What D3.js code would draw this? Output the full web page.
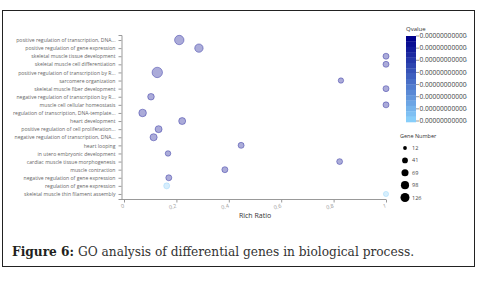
<!DOCTYPE html>
<html>
<head>
<meta charset="utf-8">
<script src="https://cdn.jsdelivr.net/npm/d3@7"></script>
<style>
  body { margin: 0; background: #fff; }
  svg { display: block; }
</style>
</head>
<body>
<svg id="chart" width="485" height="282"></svg>
<script>
const terms = [
  "positive regulation of transcription, DNA...",
  "positive regulation of gene expression",
  "skeletal muscle tissue development",
  "skeletal muscle cell differentiation",
  "positive regulation of transcription by R...",
  "sarcomere organization",
  "skeletal muscle fiber development",
  "negative regulation of transcription by R...",
  "muscle cell cellular homeostasis",
  "regulation of transcription, DNA-template...",
  "heart development",
  "positive regulation of cell proliferation...",
  "negative regulation of transcription, DNA...",
  "heart looping",
  "in utero embryonic development",
  "cardiac muscle tissue morphogenesis",
  "muscle contraction",
  "negative regulation of gene expression",
  "regulation of gene expression",
  "skeletal muscle thin filament assembly"
];
const richRatio = [0.211, 0.286, 1.0, 1.0, 0.127, 0.828, 1.0, 0.103, 1.0, 0.071,
                   0.222, 0.132, 0.113, 0.447, 0.168, 0.823, 0.385, 0.171, 0.163, 1.0];
const geneNumber = [95, 68, 22, 22, 126, 14, 22, 31, 22, 50,
                    38, 38, 41, 22, 16, 20, 22, 22, 22, 12];
const qvalue = [0.5e-13, 0.9e-13, 0.2e-13, 0.3e-13, 0.1e-13, 0.6e-13, 0.4e-13, 0.7e-13, 0.5e-13, 0.2e-13,
                0.8e-13, 0.6e-13, 0.3e-13, 1.0e-13, 0.9e-13, 1.1e-13, 0.4e-13, 1.2e-13, 9.8e-12, 9.9e-12];
const xTicks = [0, 0.2, 0.4, 0.6, 0.8, 1];
const qTickLabels = ["0.00000000000", "0.00000000000", "0.00000000000", "0.00000000000",
                     "0.00000000000", "0.00000000000", "0.00000000000", "0.00000000000"];
const geneLegend = [12, 41, 69, 98, 126];
const caption = ["Figure 6:", " GO analysis of differential genes in biological process."];

const svg = d3.select("#chart");
const labelFont = "'Open Sans', sans-serif";

svg.append("rect").attr("width", 485).attr("height", 282).attr("fill", "#fff");
// frame
svg.append("rect")
  .attr("x", 2.5).attr("y", 10.5).attr("width", 472).attr("height", 256)
  .attr("fill", "none").attr("stroke", "#222").attr("stroke-width", 1);

const x = d3.scaleLinear().domain([0, 1]).range([124, 386]);
const y = d3.scalePoint().domain(terms).range([35, 199]).padding(0.62);
const r = d3.scaleSqrt().domain([12, 126]).range([2.6, 5.2]);
const qExt = d3.extent(qvalue);
const color = d3.scaleLinear().domain(qExt).range(["#00008b", "#87cefa"]);

// y axis
const yAxis = svg.append("g")
  .attr("transform", "translate(121.5,0)")
  .call(d3.axisLeft(y).tickSize(3).tickSizeOuter(3));
yAxis.selectAll("path, line").attr("stroke", "#999");
yAxis.selectAll("text")
  .attr("fill", "#666")
  .style("font-family", labelFont)
  .style("font-size", "5.1px");

// x axis
const xAxis = svg.append("g")
  .attr("transform", "translate(0,199.5)")
  .call(d3.axisBottom(x).tickValues(xTicks).tickSize(3).tickSizeOuter(0).tickFormat(d3.format("")));
xAxis.select(".domain").attr("d", "M121,0H386");
xAxis.selectAll("path, line").attr("stroke", "#999");
xAxis.selectAll("text")
  .attr("fill", "#999")
  .attr("x", 0).attr("y", 0).attr("dy", 0)
  .attr("transform", "translate(0,8) rotate(-15)")
  .style("text-anchor", "end")
  .style("font-family", labelFont)
  .style("font-size", "5.5px");

svg.append("text")
  .attr("x", 255).attr("y", 218)
  .attr("text-anchor", "middle")
  .attr("fill", "#333")
  .style("font-family", labelFont)
  .style("font-size", "7px")
  .text("Rich Ratio");

// bubbles
const data = terms.map((t, i) => ({ term: t, ratio: richRatio[i], n: geneNumber[i], q: qvalue[i] }));
svg.append("g").selectAll("circle")
  .data(data)
  .join("circle")
  .attr("cx", d => x(d.ratio))
  .attr("cy", d => y(d.term))
  .attr("r", d => r(d.n))
  .attr("fill", d => color(d.q))
  .attr("fill-opacity", 0.33)
  .attr("stroke", d => color(d.q))
  .attr("stroke-opacity", 0.45)
  .attr("stroke-width", 0.8);

// Qvalue legend
svg.append("text")
  .attr("x", 406).attr("y", 31)
  .attr("fill", "#333")
  .style("font-family", labelFont)
  .style("font-size", "6px")
  .text("Qvalue");

const barTop = 36, barBottom = 122, steps = 16;
const barScale = d3.scaleLinear().domain([0, steps]).range([barTop, barBottom]);
svg.append("g").selectAll("rect")
  .data(d3.range(steps))
  .join("rect")
  .attr("x", 406).attr("width", 10)
  .attr("y", d => barScale(d))
  .attr("height", d => barScale(d + 1) - barScale(d) + 0.3)
  .attr("fill", d => d3.interpolateRgb("#00008b", "#87cefa")(d / (steps - 1)));

const qScale = d3.scaleLinear().domain([0, qTickLabels.length - 1]).range([barTop, barBottom - 1]);
const qLeg = svg.append("g");
qTickLabels.forEach((lab, i) => {
  const yy = qScale(i);
  qLeg.append("line")
    .attr("x1", 416).attr("x2", 419)
    .attr("y1", yy).attr("y2", yy)
    .attr("stroke", "#555").attr("stroke-width", 0.6);
  qLeg.append("text")
    .attr("x", 419.5).attr("y", yy + 2.2)
    .attr("fill", "#444")
    .style("font-family", labelFont)
    .style("font-size", "6.6px")
    .text(lab);
  qLeg.append("circle")
    .attr("cx", 466.5).attr("cy", yy + 0.5).attr("r", 0.7).attr("fill", "#6cb6f0");
});

// Gene number legend
svg.append("text")
  .attr("x", 400).attr("y", 137.5)
  .attr("fill", "#333")
  .style("font-family", labelFont)
  .style("font-size", "5.5px")
  .text("Gene Number");

const legY = d3.scalePoint().domain(geneLegend).range([148, 197.5]);
const gl = svg.append("g").selectAll("g")
  .data(geneLegend)
  .join("g")
  .attr("transform", d => `translate(405,${legY(d)})`);
gl.append("circle").attr("r", d => r(d) - 0.7).attr("fill", "#000");
gl.append("text")
  .attr("x", 7).attr("y", 2)
  .attr("fill", "#444")
  .style("font-family", labelFont)
  .style("font-size", "5.5px")
  .text(d => d);

// caption
const cap = svg.append("text")
  .attr("x", 12).attr("y", 256)
  .style("font-family", "'DejaVu Serif', serif")
  .style("font-size", "12.2px");
cap.append("tspan").attr("font-weight", "bold").attr("fill", "#231f20").text(caption[0]);
cap.append("tspan").attr("fill", "#333").text(caption[1]);
</script>
</body>
</html>
